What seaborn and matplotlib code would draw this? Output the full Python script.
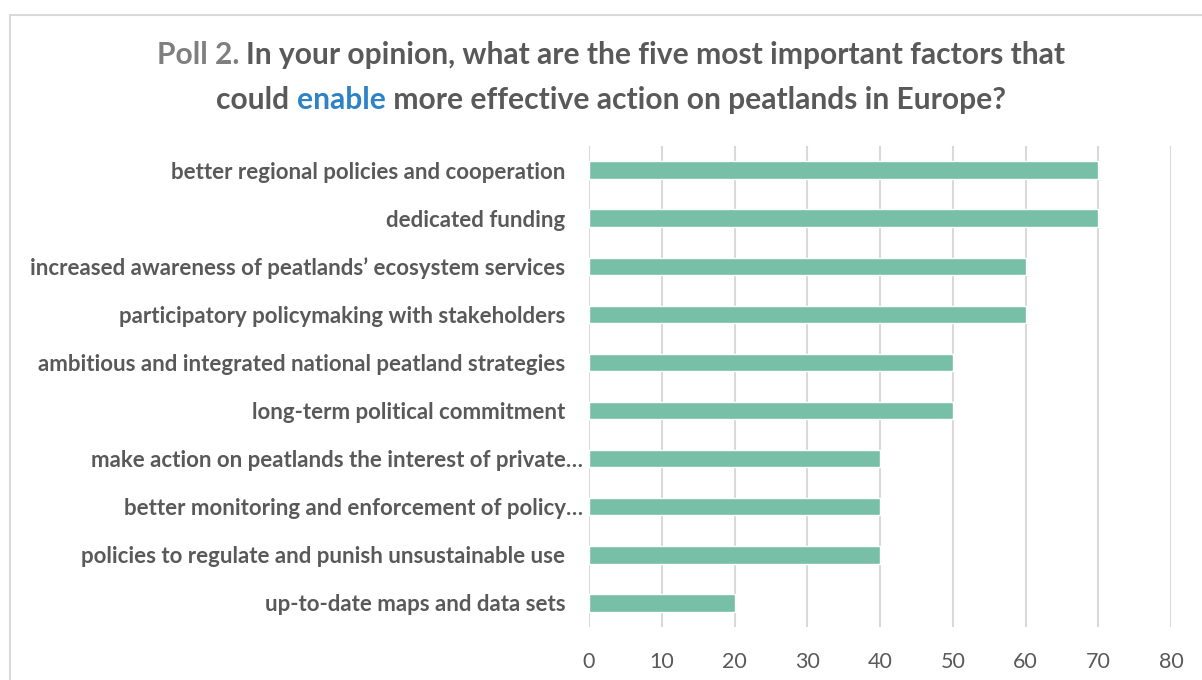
import matplotlib
matplotlib.use("Agg")
import matplotlib.pyplot as plt
import matplotlib.transforms as mtransforms
import seaborn as sns
import pandas as pd
from matplotlib.patches import Rectangle

categories = [
    "better regional policies and cooperation",
    "dedicated funding",
    "increased awareness of peatlands\u2019 ecosystem services",
    "participatory policymaking with stakeholders",
    "ambitious and integrated national peatland strategies",
    "long-term political commitment",
    "make action on peatlands the interest of private\u2026",
    "better monitoring and enforcement of policy\u2026",
    "policies to regulate and punish unsustainable use",
    "up-to-date maps and data sets",
]
values = [70, 70, 60, 60, 50, 50, 40, 40, 40, 20]
xticks = [0, 10, 20, 30, 40, 50, 60, 70, 80]

sns.set_theme(style="white")
plt.rcParams['font.family'] = ['Lato', 'DejaVu Sans']

df = pd.DataFrame({"factor": categories, "value": values})

fig = plt.figure(figsize=(12.02, 6.8), dpi=100)
ax = fig.add_axes([589/1202, 1-627/680, (1171-589)/1202, (627-146)/680])

sns.barplot(data=df, x="value", y="factor", color="#77BFA7", saturation=1,
            width=0.36, ax=ax, orient="h")

ax.set_xlim(0, 80)
ax.set_xticks(xticks)
ax.set_xticklabels([str(t) for t in xticks], fontsize=15.5, color="#595959")
ax.set_xlabel("")
ax.set_ylabel("")
ax.tick_params(axis="y", length=0, pad=4)
ax.tick_params(axis="x", length=0, pad=18)
for lab in ax.get_yticklabels():
    lab.set_fontweight("bold")
    lab.set_fontsize(16)
    lab.set_color("#595959")
    if not lab.get_text().endswith("\u2026"):
        lab.set_transform(lab.get_transform() +
                          mtransforms.ScaledTranslation(-18/100, 0, fig.dpi_scale_trans))
ax.xaxis.grid(True, color="#D9D9D9", linewidth=1.5)
ax.set_axisbelow(True)
for s in ax.spines.values():
    s.set_visible(False)

# border
fig.patches.append(Rectangle((10/1202, -0.05), 1.2, 1-15/680+0.05,
                             transform=fig.transFigure, fill=False,
                             edgecolor="#D9D9D9", linewidth=1.5))

# multi-colored title
fig.canvas.draw()
renderer = fig.canvas.get_renderer()
title_lines = [
    [("Poll 2. ", "#7F7F7F"), ("In your opinion, what are the five most important factors that", "#595959")],
    [("could ", "#595959"), ("enable", "#2E83C6"), (" more effective action on peatlands in Europe?", "#595959")],
]
ys = [1-55/680, 1-100/680]
cx = 611/1202
for line, y in zip(title_lines, ys):
    texts = []
    for s, c in line:
        t = fig.text(0, y, s, fontsize=21.6, fontweight="bold", color=c, va="center", ha="left")
        texts.append(t)
    widths = [t.get_window_extent(renderer).width for t in texts]
    total = sum(widths)
    x = cx * 1202 - total / 2
    for t, w in zip(texts, widths):
        t.set_x(x / 1202)
        x += w

fig.savefig("out.png", dpi=100)
